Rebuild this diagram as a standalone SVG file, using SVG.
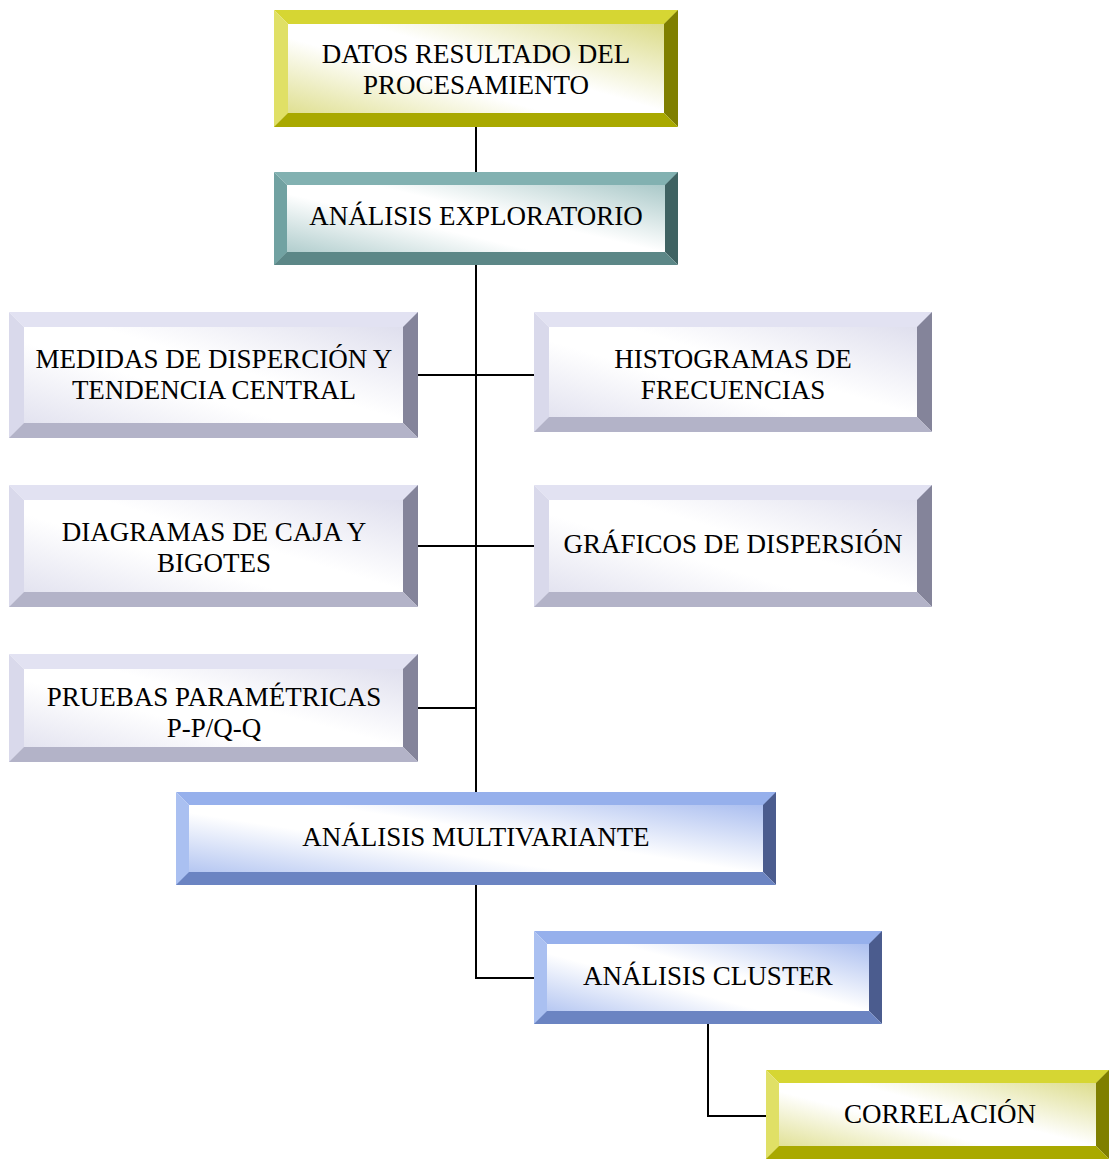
<svg xmlns="http://www.w3.org/2000/svg" width="1109" height="1159" viewBox="0 0 1109 1159">
  <style>
    .lbl { font-family: "Liberation Serif", "Times New Roman", serif; font-size: 27px; fill: #000; text-anchor: middle; }
    .wire { fill: none; stroke: #000; stroke-width: 2; }
    /* olive bevel */
    .ol-t { fill: #d6d633; } .ol-l { fill: #e0e066; } .ol-r { fill: #7f7f00; } .ol-b { fill: #a9a900; }
    /* teal bevel */
    .tl-t { fill: #82b1b1; } .tl-l { fill: #71a2a2; } .tl-r { fill: #3f6262; } .tl-b { fill: #5c8787; }
    /* lavender bevel */
    .lv-t { fill: #e2e2f2; } .lv-l { fill: #d9d9eb; } .lv-r { fill: #84849a; } .lv-b { fill: #b3b3c8; }
    /* blue bevel */
    .bl-t { fill: #96b0ec; } .bl-l { fill: #aac0f1; } .bl-r { fill: #4b5c8e; } .bl-b { fill: #6b84c2; }
  </style>
  <defs>
    <linearGradient id="gOlive" x1="1" y1="0" x2="0" y2="1">
      <stop offset="0" stop-color="#d4d470"/>
      <stop offset="0.45" stop-color="#ffffff"/>
      <stop offset="0.6" stop-color="#ffffff"/>
      <stop offset="1" stop-color="#d8d878"/>
    </linearGradient>
    <linearGradient id="gTeal" x1="1" y1="0" x2="0" y2="1">
      <stop offset="0" stop-color="#96bcbc"/>
      <stop offset="0.45" stop-color="#ffffff"/>
      <stop offset="0.6" stop-color="#ffffff"/>
      <stop offset="1" stop-color="#9cc0c0"/>
    </linearGradient>
    <linearGradient id="gLav" x1="1" y1="0" x2="0" y2="1">
      <stop offset="0" stop-color="#d8d8ea"/>
      <stop offset="0.45" stop-color="#ffffff"/>
      <stop offset="0.6" stop-color="#ffffff"/>
      <stop offset="1" stop-color="#dcdcec"/>
    </linearGradient>
    <linearGradient id="gBlue" x1="1" y1="0" x2="0" y2="1">
      <stop offset="0" stop-color="#98b0ec"/>
      <stop offset="0.45" stop-color="#ffffff"/>
      <stop offset="0.6" stop-color="#ffffff"/>
      <stop offset="1" stop-color="#a2b8ee"/>
    </linearGradient>
  </defs>
  <rect width="1109" height="1159" fill="#ffffff"/>

  <g id="connectors">
    <line class="wire" x1="476" y1="124" x2="476" y2="174"/>
    <line class="wire" x1="476" y1="264" x2="476" y2="794"/>
    <line class="wire" x1="417" y1="375" x2="535" y2="375"/>
    <line class="wire" x1="417" y1="546" x2="535" y2="546"/>
    <line class="wire" x1="417" y1="708" x2="476" y2="708"/>
    <polyline class="wire" points="476,884 476,978 535,978"/>
    <polyline class="wire" points="708,1023 708,1116 767,1116"/>
  </g>

  <!-- DATOS RESULTADO DEL PROCESAMIENTO -->
  <g id="n-datos">
    <rect x="274" y="10" width="404" height="117" fill="url(#gOlive)"/>
    <polygon class="ol-t" points="274,10 678,10 664,24 288,24"/>
    <polygon class="ol-l" points="274,10 288,24 288,113 274,127"/>
    <polygon class="ol-r" points="678,10 678,127 664,113 664,24"/>
    <polygon class="ol-b" points="274,127 288,113 664,113 678,127"/>
    <text class="lbl" x="476" y="63">DATOS RESULTADO DEL</text>
    <text class="lbl" x="476" y="94">PROCESAMIENTO</text>
  </g>

  <!-- ANÁLISIS EXPLORATORIO -->
  <g id="n-exploratorio">
    <rect x="274" y="172" width="404" height="93" fill="url(#gTeal)"/>
    <polygon class="tl-t" points="274,172 678,172 665,185 287,185"/>
    <polygon class="tl-l" points="274,172 287,185 287,252 274,265"/>
    <polygon class="tl-r" points="678,172 678,265 665,252 665,185"/>
    <polygon class="tl-b" points="274,265 287,252 665,252 678,265"/>
    <text class="lbl" x="476" y="225">ANÁLISIS EXPLORATORIO</text>
  </g>

  <!-- MEDIDAS DE DISPERCIÓN Y TENDENCIA CENTRAL -->
  <g id="n-medidas">
    <rect x="9" y="312" width="409" height="126" fill="url(#gLav)"/>
    <polygon class="lv-t" points="9,312 418,312 403,327 24,327"/>
    <polygon class="lv-l" points="9,312 24,327 24,423 9,438"/>
    <polygon class="lv-r" points="418,312 418,438 403,423 403,327"/>
    <polygon class="lv-b" points="9,438 24,423 403,423 418,438"/>
    <text class="lbl" x="214" y="368">MEDIDAS DE DISPERCIÓN Y</text>
    <text class="lbl" x="214" y="399">TENDENCIA CENTRAL</text>
  </g>

  <!-- HISTOGRAMAS DE FRECUENCIAS -->
  <g id="n-histogramas">
    <rect x="534" y="312" width="398" height="120" fill="url(#gLav)"/>
    <polygon class="lv-t" points="534,312 932,312 917,327 549,327"/>
    <polygon class="lv-l" points="534,312 549,327 549,417 534,432"/>
    <polygon class="lv-r" points="932,312 932,432 917,417 917,327"/>
    <polygon class="lv-b" points="534,432 549,417 917,417 932,432"/>
    <text class="lbl" x="733" y="368">HISTOGRAMAS DE</text>
    <text class="lbl" x="733" y="399">FRECUENCIAS</text>
  </g>

  <!-- DIAGRAMAS DE CAJA Y BIGOTES -->
  <g id="n-diagramas">
    <rect x="9" y="485" width="409" height="122" fill="url(#gLav)"/>
    <polygon class="lv-t" points="9,485 418,485 403,500 24,500"/>
    <polygon class="lv-l" points="9,485 24,500 24,592 9,607"/>
    <polygon class="lv-r" points="418,485 418,607 403,592 403,500"/>
    <polygon class="lv-b" points="9,607 24,592 403,592 418,607"/>
    <text class="lbl" x="214" y="541">DIAGRAMAS DE CAJA Y</text>
    <text class="lbl" x="214" y="572">BIGOTES</text>
  </g>

  <!-- GRÁFICOS DE DISPERSIÓN -->
  <g id="n-graficos">
    <rect x="534" y="485" width="398" height="122" fill="url(#gLav)"/>
    <polygon class="lv-t" points="534,485 932,485 917,500 549,500"/>
    <polygon class="lv-l" points="534,485 549,500 549,592 534,607"/>
    <polygon class="lv-r" points="932,485 932,607 917,592 917,500"/>
    <polygon class="lv-b" points="534,607 549,592 917,592 932,607"/>
    <text class="lbl" x="733" y="553">GRÁFICOS DE DISPERSIÓN</text>
  </g>

  <!-- PRUEBAS PARAMÉTRICAS P-P/Q-Q -->
  <g id="n-pruebas">
    <rect x="9" y="654" width="409" height="108" fill="url(#gLav)"/>
    <polygon class="lv-t" points="9,654 418,654 403,669 24,669"/>
    <polygon class="lv-l" points="9,654 24,669 24,747 9,762"/>
    <polygon class="lv-r" points="418,654 418,762 403,747 403,669"/>
    <polygon class="lv-b" points="9,762 24,747 403,747 418,762"/>
    <text class="lbl" x="214" y="706">PRUEBAS PARAMÉTRICAS</text>
    <text class="lbl" x="214" y="737">P-P/Q-Q</text>
  </g>

  <!-- ANÁLISIS MULTIVARIANTE -->
  <g id="n-multivariante">
    <rect x="176" y="792" width="600" height="93" fill="url(#gBlue)"/>
    <polygon class="bl-t" points="176,792 776,792 763,805 189,805"/>
    <polygon class="bl-l" points="176,792 189,805 189,872 176,885"/>
    <polygon class="bl-r" points="776,792 776,885 763,872 763,805"/>
    <polygon class="bl-b" points="176,885 189,872 763,872 776,885"/>
    <text class="lbl" x="476" y="846">ANÁLISIS MULTIVARIANTE</text>
  </g>

  <!-- ANÁLISIS CLUSTER -->
  <g id="n-cluster">
    <rect x="534" y="931" width="348" height="93" fill="url(#gBlue)"/>
    <polygon class="bl-t" points="534,931 882,931 869,944 547,944"/>
    <polygon class="bl-l" points="534,931 547,944 547,1011 534,1024"/>
    <polygon class="bl-r" points="882,931 882,1024 869,1011 869,944"/>
    <polygon class="bl-b" points="534,1024 547,1011 869,1011 882,1024"/>
    <text class="lbl" x="708" y="985">ANÁLISIS CLUSTER</text>
  </g>

  <!-- CORRELACIÓN -->
  <g id="n-correlacion">
    <rect x="766" y="1070" width="343" height="89" fill="url(#gOlive)"/>
    <polygon class="ol-t" points="766,1070 1109,1070 1096,1083 779,1083"/>
    <polygon class="ol-l" points="766,1070 779,1083 779,1146 766,1159"/>
    <polygon class="ol-r" points="1109,1070 1109,1159 1096,1146 1096,1083"/>
    <polygon class="ol-b" points="766,1159 779,1146 1096,1146 1109,1159"/>
    <text class="lbl" x="940" y="1123">CORRELACIÓN</text>
  </g>
</svg>
